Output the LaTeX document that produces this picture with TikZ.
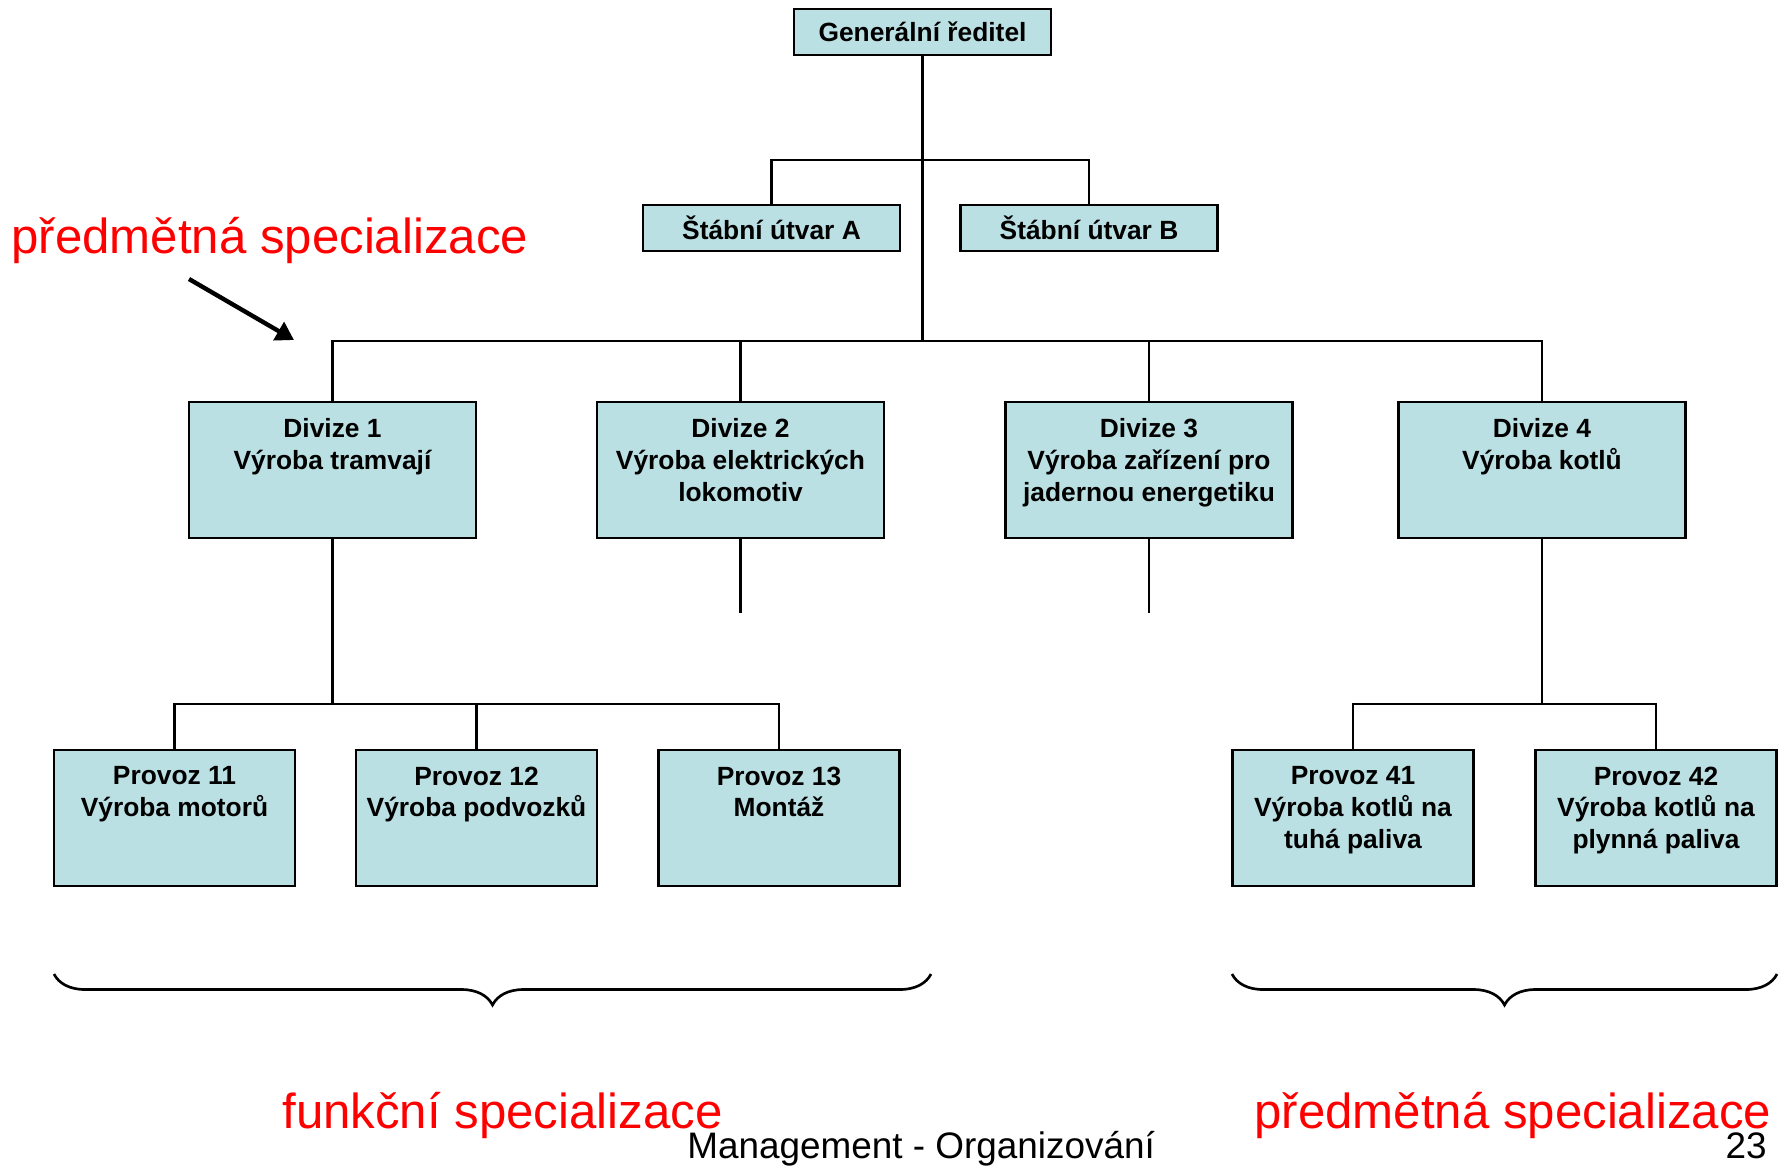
\documentclass[tikz,border=0pt]{standalone}
\usepackage{fontspec}
\setmainfont{Liberation Sans}
\usetikzlibrary{arrows.meta,decorations.pathreplacing}
\definecolor{unitblue}{RGB}{187,224,227}
\tikzset{>/.tip={Triangle}}
\newcommand{\unittext}[3]{\parbox[c][#1][t]{#2}{\centering\vspace*{9.5pt}#3}}

\begin{document}
\begin{tikzpicture}[x=0.02cm, y=-0.02cm,
  unit/.style={draw, fill=unitblue, line width=1.2pt, inner sep=0pt, font=\bfseries\fontsize{15}{18}\selectfont},
  staff/.style={unit, minimum width=5.14cm, minimum height=0.92cm},
  conn/.style={line width=1.5pt},
  curly/.style={decorate, decoration={brace, amplitude=0.62cm}, line width=1.5pt},
  note/.style={text=red, font=\fontsize{28}{34}\selectfont, anchor=base west, inner sep=0pt},
  foot/.style={font=\fontsize{21}{25}\selectfont, inner sep=0pt}]
\useasboundingbox (0,0) rectangle (1787,1167);

\node[staff] (gr) at (922.5,32) {Generální ředitel};
\node[staff] (sa) at (771.5,228) {Štábní útvar A};
\node[staff] (sb) at (1089,228) {Štábní útvar B};

\node[unit] (d1) at (332.5,470) {\unittext{2.72cm}{5.74cm}{Divize 1\\Výroba tramvají}};
\node[unit] (d2) at (740.5,470) {\unittext{2.72cm}{5.74cm}{Divize 2\\Výroba elektrických\\lokomotiv}};
\node[unit] (d3) at (1149,470) {\unittext{2.72cm}{5.74cm}{Divize 3\\Výroba zařízení pro\\jadernou energetiku}};
\node[unit] (d4) at (1542,470) {\unittext{2.72cm}{5.74cm}{Divize 4\\Výroba kotlů}};

\node[unit] (p11) at (174.5,818) {\unittext{2.72cm}{4.82cm}{Provoz 11\\Výroba motorů}};
\node[unit] (p12) at (476.5,818) {\unittext{2.72cm}{4.82cm}{Provoz 12\\Výroba podvozků}};
\node[unit] (p13) at (779,818) {\unittext{2.72cm}{4.82cm}{Provoz 13\\Montáž}};
\node[unit] (p41) at (1353,818) {\unittext{2.72cm}{4.82cm}{Provoz 41\\Výroba kotlů na\\tuhá paliva}};
\node[unit] (p42) at (1656,818) {\unittext{2.72cm}{4.82cm}{Provoz 42\\Výroba kotlů na\\plynná paliva}};

\coordinate (staffbar) at (0,160);
\coordinate (divbar) at (0,341);
\coordinate (prodbar) at (0,704);
\coordinate (d2end) at (740.5,613);
\coordinate (d3end) at (1149,613);

% linky
\draw[conn] (gr.south) -- (gr.south |- divbar);
\draw[conn] (sa.north) -- (sa.north |- staffbar) -- (sb.north |- staffbar) -- (sb.north);
\draw[conn] (d1.north) -- (d1.north |- divbar) -- (d4.north |- divbar) -- (d4.north);
\foreach \d in {d2,d3} \draw[conn] (\d.north) -- (\d.north |- divbar);
\draw[conn] (d2.south) -- (d2end);
\draw[conn] (d3.south) -- (d3end);
\draw[conn] (d1.south) -- (d1.south |- prodbar);
\draw[conn] (p11.north) -- (p11.north |- prodbar) -- (p13.north |- prodbar) -- (p13.north);
\draw[conn] (p12.north) -- (p12.north |- prodbar);
\draw[conn] (d4.south) -- (d4.south |- prodbar);
\draw[conn] (p41.north) -- (p41.north |- prodbar) -- (p42.north |- prodbar) -- (p42.north);

% zavorky
\draw[curly] (931,974) -- (54,974);
\draw[curly] (1777,974) -- (1232,974);

\node[note] (topnote) at (11,253) {předmětná specializace};
\coordinate (arrtail) at (189,279);
\coordinate (arrhead) at (294,340);
\draw[->, line width=2.5pt] (arrtail) -- (arrhead);

\node[note] (funcnote) at (282,1128) {funkční specializace};
\node[note] (prodnote) at (1254,1128) {předmětná specializace};
\node[foot, anchor=base west] (title) at (687,1158) {Management - Organizování};
\node[foot, anchor=base east] (page) at (1767,1158) {23};
\end{tikzpicture}
\end{document}
